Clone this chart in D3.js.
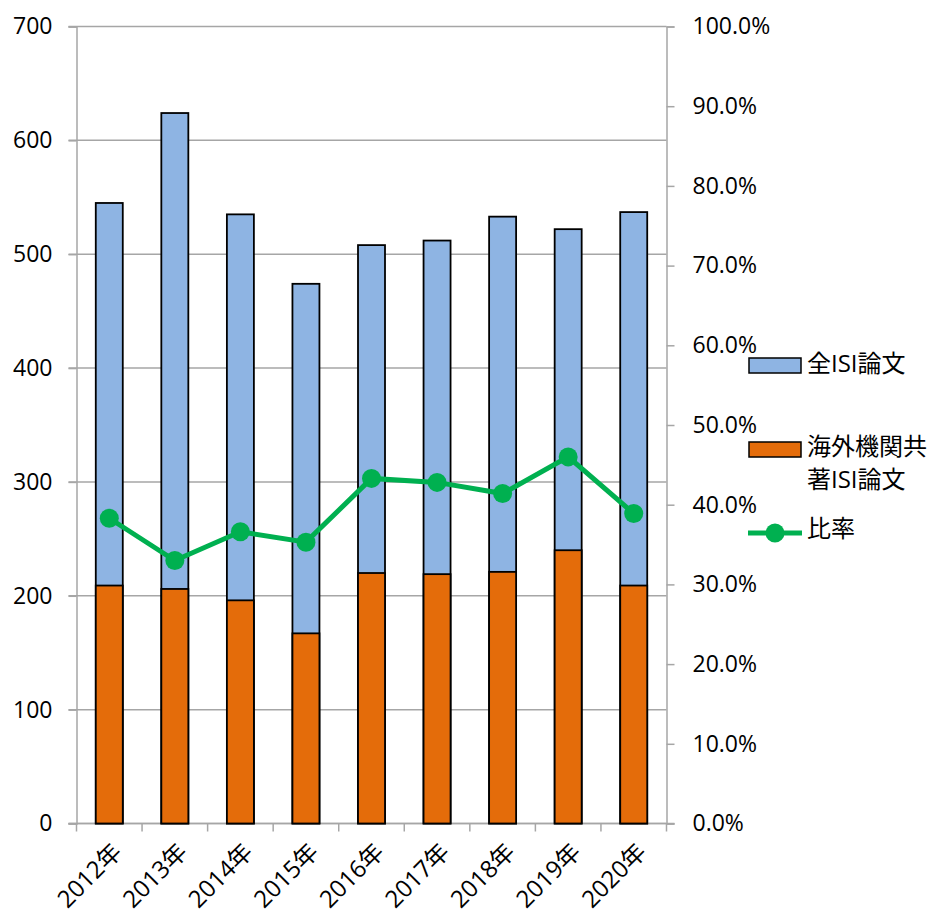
<!DOCTYPE html>
<html><head><meta charset="utf-8">
<script src="https://cdn.jsdelivr.net/npm/d3@7"></script>
<style>body{margin:0;background:#fff}svg{display:block}text{font-family:"Open Sans","Noto Sans CJK JP",sans-serif;fill:#000}</style>
</head><body><svg id="c" width="940" height="919"></svg>
<script>
const years = ["2012年","2013年","2014年","2015年","2016年","2017年","2018年","2019年","2020年"];
const totalISI = [545, 624, 535, 474, 508, 512, 533, 522, 537];
const intlISI = [209, 206, 196, 167, 220, 219, 221, 240, 209];
const ratio = [0.383, 0.330, 0.366, 0.353, 0.433, 0.428, 0.414, 0.460, 0.389];
const leftTicks = [0,100,200,300,400,500,600,700];
const rightTicks = [0,0.1,0.2,0.3,0.4,0.5,0.6,0.7,0.8,0.9,1.0];

const svg = d3.select("#c");
const L=76.5, R=666.5, T=26.5, B=823.5;
const x = d3.scaleBand().domain(years).range([L,R]).paddingInner(0).paddingOuter(0);
const y = d3.scaleLinear().domain([0,700]).range([B,T]);
const y2 = d3.scaleLinear().domain([0,1]).range([B,T]);
const grid="#a6a6a6";

// gridlines
svg.append("g").selectAll("line").data(leftTicks).join("line")
  .attr("x1",L-8).attr("x2",R).attr("y1",d=>y(d)).attr("y2",d=>y(d))
  .attr("stroke",grid).attr("stroke-width",1.5);

// left axis
const ga = svg.append("g").attr("transform",`translate(${L},0)`)
  .call(d3.axisLeft(y).tickValues(leftTicks).tickSize(8).tickPadding(16));
ga.select(".domain").attr("stroke",grid).attr("stroke-width",1.5);
ga.selectAll(".tick line").attr("stroke",grid).attr("stroke-width",1.5);
ga.selectAll("text").attr("font-size",23).style("font-family","'Open Sans',sans-serif");

// right axis
const gr = svg.append("g").attr("transform",`translate(${R},0)`)
  .call(d3.axisRight(y2).tickValues(rightTicks).tickSize(8).tickPadding(18).tickFormat(d3.format(".1%")));
gr.select(".domain").attr("stroke",grid).attr("stroke-width",1.5);
gr.selectAll(".tick line").attr("stroke",grid).attr("stroke-width",1.5);
gr.selectAll("text").attr("font-size",23).style("font-family","'Open Sans',sans-serif");

// bottom axis
const gb = svg.append("g").attr("transform",`translate(0,${B})`)
  .call(d3.axisBottom(x).tickSize(0).tickFormat(""));
gb.select(".domain").attr("stroke",grid).attr("stroke-width",1.5).attr("d",`M${L-8},0H${R+8}`);
svg.append("g").selectAll("line").data(d3.range(years.length+1)).join("line")
  .attr("x1",i=>L+i*x.bandwidth()).attr("x2",i=>L+i*x.bandwidth())
  .attr("y1",B).attr("y2",B+8).attr("stroke",grid).attr("stroke-width",1.5);
svg.append("g").selectAll("text").data(years).join("text")
  .attr("transform",d=>`translate(${x(d)+x.bandwidth()/2+8},${B+24}) rotate(-45)`)
  .attr("text-anchor","end").attr("dy","0.35em").attr("font-size",24).text(d=>d);

const bw = 27;
const cx = d=>x(d)+x.bandwidth()/2;
// total bars
svg.append("g").selectAll("rect").data(years).join("rect")
  .attr("x",d=>cx(d)-bw/2).attr("width",bw)
  .attr("y",(d,i)=>y(totalISI[i])).attr("height",(d,i)=>B-y(totalISI[i]))
  .attr("fill","#8eb4e3").attr("stroke","#000").attr("stroke-width",1.8);
// intl bars
svg.append("g").selectAll("rect").data(years).join("rect")
  .attr("x",d=>cx(d)-bw/2).attr("width",bw)
  .attr("y",(d,i)=>y(intlISI[i])).attr("height",(d,i)=>B-y(intlISI[i]))
  .attr("fill","#e46c0a").attr("stroke","#000").attr("stroke-width",1.8);

// ratio line
svg.append("path").datum(ratio)
  .attr("d",d3.line().x((d,i)=>cx(years[i])).y(d=>y2(d)))
  .attr("fill","none").attr("stroke","#00b050").attr("stroke-width",5);
svg.append("g").selectAll("circle").data(ratio).join("circle")
  .attr("cx",(d,i)=>cx(years[i])).attr("cy",d=>y2(d)).attr("r",9.5).attr("fill","#00b050");

// legend
const lg = svg.append("g");
const fs = 24;
lg.append("rect").attr("x",749).attr("y",358).attr("width",52).attr("height",15).attr("fill","#8eb4e3").attr("stroke","#000").attr("stroke-width",1.5);
lg.append("text").attr("x",807).attr("y",364).attr("dy","0.35em").attr("font-size",fs).text("全ISI論文");
lg.append("rect").attr("x",749).attr("y",442).attr("width",52).attr("height",15).attr("fill","#e46c0a").attr("stroke","#000").attr("stroke-width",1.5);
lg.append("text").attr("x",807).attr("y",447).attr("dy","0.35em").attr("font-size",fs).text("海外機関共");
lg.append("text").attr("x",807).attr("y",480).attr("dy","0.35em").attr("font-size",fs).text("著ISI論文");
lg.append("line").attr("x1",748).attr("x2",802).attr("y1",533).attr("y2",533).attr("stroke","#00b050").attr("stroke-width",5);
lg.append("circle").attr("cx",775).attr("cy",533).attr("r",9.5).attr("fill","#00b050");
lg.append("text").attr("x",807).attr("y",529).attr("dy","0.35em").attr("font-size",fs).text("比率");
</script></body></html>
